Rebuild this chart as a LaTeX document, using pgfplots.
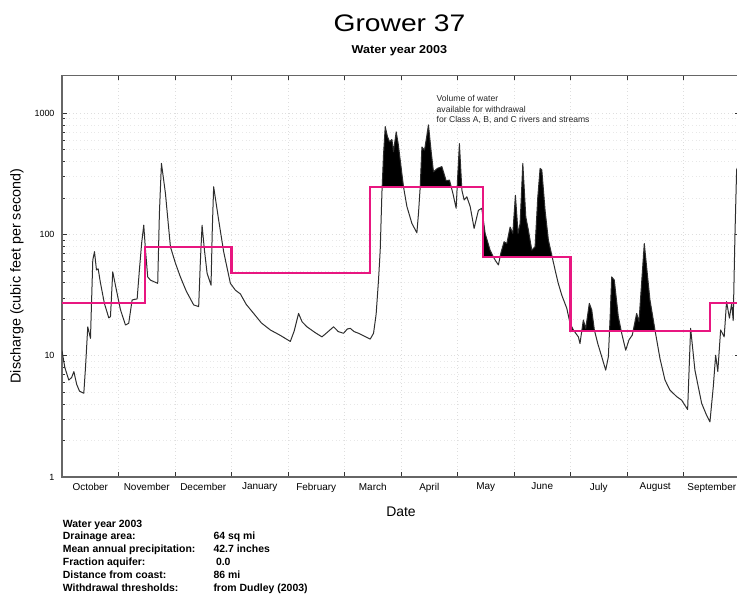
\documentclass[border=0pt]{standalone}
\usepackage{fontspec}
\setmainfont{Liberation Sans}
\usepackage{pgfplots}
\pgfplotsset{compat=1.18}
\usepgfplotslibrary{fillbetween}
\definecolor{thresh}{RGB}{232,22,128}

% daily discharge, x in months from 1 October (0) to 30 September (12)
\pgfplotstableread{
x y
0.00 11
0.05 8.0
0.12 6.3
0.17 6.6
0.21 7.4
0.26 5.8
0.31 5.1
0.386 4.9
0.416 8
0.456 17.3
0.504 13.9
0.545 61.5
0.575 72
0.610 51
0.640 52
0.68 40
0.75 27
0.828 20.5
0.858 21
0.898 49
0.946 38
1.034 24
1.123 17.9
1.181 18.5
1.241 28.8
1.330 29.4
1.370 51
1.41 85
1.447 119
1.477 75
1.517 44.6
1.565 42
1.623 40.8
1.694 39.5
1.724 150
1.760 385
1.830 219
1.919 79
2.007 58
2.095 44.6
2.20 34
2.331 26.2
2.419 25.4
2.449 60
2.479 119
2.52 75
2.568 47.8
2.638 38.1
2.66 110
2.684 247
2.773 131
2.861 72
2.980 39.5
3.068 34.7
3.157 32.3
3.26 26.5
3.392 22.3
3.53 18.6
3.687 16.3
3.864 14.7
4.041 13.1
4.11 16
4.187 22.3
4.25 19
4.336 17.3
4.48 15.5
4.601 14.3
4.69 15.5
4.806 17.3
4.89 15.8
4.983 15.3
5.05 16.6
5.102 16.8
5.17 15.8
5.248 15.3
5.35 14.5
5.455 13.7
5.514 15.3
5.56 22
5.602 42
5.632 74
5.662 219
5.69 450
5.721 772
5.76 640
5.797 580
5.839 605
5.867 480
5.915 700
5.95 560
5.986 410
6.044 247
6.104 170
6.193 123
6.281 103
6.31 150
6.340 247
6.370 525
6.416 495
6.455 640
6.486 800
6.534 480
6.575 328
6.645 350
6.723 362
6.799 277
6.858 280
6.918 218
6.976 164
7.00 280
7.034 560
7.077 232
7.118 192
7.165 204
7.224 170
7.294 112
7.370 158
7.430 164
7.489 102
7.577 74
7.636 65
7.68 60
7.724 56
7.767 70
7.825 87
7.873 84
7.931 115
7.979 102
8.025 210
8.072 102
8.108 123
8.156 385
8.209 139
8.255 108
8.315 74
8.373 79
8.42 200
8.462 350
8.492 340
8.550 158
8.608 90
8.686 62
8.727 51
8.78 40
8.845 31.6
8.934 24.6
8.992 18.5
9.050 16.3
9.139 14.3
9.168 12.6
9.227 19.7
9.270 16.8
9.333 27
9.376 23.8
9.422 16.3
9.482 12.6
9.553 9.8
9.623 7.6
9.670 9.8
9.70 20
9.729 44.6
9.775 42
9.846 21
9.906 15.3
9.977 11.1
10.035 13.5
10.094 14.8
10.171 22.3
10.212 19.1
10.306 84
10.406 28.8
10.495 16.3
10.583 9.5
10.672 6.3
10.760 5.2
10.879 4.6
10.967 4.3
11.01 4.0
11.073 3.6
11.126 16.8
11.202 7.6
11.321 4.05
11.40 3.3
11.468 2.85
11.527 5.55
11.569 10.1
11.607 7.4
11.657 16.3
11.720 14.3
11.762 27.9
11.813 20.4
11.852 27
11.88 19.5
11.910 96
11.940 340
11.98 380
}\flowtable

% withdrawal thresholds (Dudley, 2003)
\pgfplotstableread{
x y
0 27
1.467 27
1.467 79
3 79
3 48
5.45 48
5.45 245
7.45 245
7.45 65
9 65
9 16
11.467 16
11.467 27
12 27
}\threshtable

% shaded withdrawal volume: flow above the threshold, 15 March - 15 September
\tikzset{
  fill between/excess in/.style 2 args={soft clip={(axis cs:#1,1) rectangle (axis cs:#2,2040)}},
}
\pgfplotsset{excess/.style={black, draw=none}}

\begin{document}
\begin{tikzpicture}
\begin{axis}[
  set layers,
  at={(62bp,-477bp)}, anchor=south west,
  scale only axis, width=678bp, height=401.5bp,
  xmin=0, xmax=12,
  ymode=log, ymin=1, ymax=2040,
  xtick={0,1,...,12},
  xticklabels={October,November,December,January,February,March,April,May,June,July,August,September},
  x tick label as interval,
  ytick={1,10,100,1000},
  yticklabels={1,10,100,1000},
  /pgf/number format/assume math mode=true,
  tick align=inside,
  major tick length=5bp, minor tick length=3bp,
  tick style={black!80, line width=0.6bp},
  axis line style={black!60, line width=1.3bp},
  xmajorgrids, ymajorgrids, yminorgrids,
  major grid style={black!13, dash pattern=on 0.6bp off 3bp},
  minor grid style={black!9, dash pattern=on 0.6bp off 3bp},
  xticklabel style={font=\fontsize{10}{12}\selectfont, yshift=-2.5bp},
  yticklabel style={font=\fontsize{9}{11}\selectfont, xshift=-4bp},
  xlabel={Date},
  ylabel={Discharge (cubic feet per second)},
  every axis x label/.style={at={(axis description cs:0.5,-0.0864)}, anchor=center, font=\fontsize{14}{16}\selectfont},
  every axis y label/.style={at={(axis description cs:-0.0665,0.5)}, rotate=90, anchor=center, font=\fontsize{14.4}{16}\selectfont},
]
\addplot[black!82, line width=1bp, line join=round, name path=flow] table[x=x, y=y] {\flowtable};
\addplot[thresh, line width=2.2bp] table[x=x, y=y] {\threshtable};

% the three withdrawal-season threshold levels as separate paths
\addplot[draw=none, name path=t245] coordinates {(5.45,245) (7.45,245)};
\addplot[draw=none, name path=t65]  coordinates {(7.45,65) (9,65)};
\addplot[draw=none, name path=t16]  coordinates {(9,16) (11.467,16)};

\addplot[excess] fill between[of=flow and t245, excess in={5.666}{6.045}];
\addplot[excess] fill between[of=flow and t245, excess in={6.3395}{6.890}];
\addplot[excess] fill between[of=flow and t245, excess in={6.994}{7.074}];
\addplot[excess] fill between[of=flow and t65, excess in={7.451}{7.636}];
\addplot[excess] fill between[of=flow and t65, excess in={7.753}{8.676}];
\addplot[excess] fill between[of=flow and t16, excess in={9.001}{9.063}];
\addplot[excess] fill between[of=flow and t16, excess in={9.1995}{9.426}];
\addplot[excess] fill between[of=flow and t16, excess in={9.6906}{9.8975}];
\addplot[excess] fill between[of=flow and t16, excess in={10.1086}{10.498}];
\end{axis}

\node[anchor=base, xscale=1.18, font=\fontsize{24}{28}\selectfont] at (399.5bp,-31.7bp) {Grower 37};
\node[anchor=base, xscale=1.1, font=\fontsize{11.5}{13}\selectfont\bfseries] at (399.5bp,-53.3bp) {Water year 2003};

\node[anchor=north west, align=left, inner sep=0pt, font=\fontsize{8.6}{10.7}\selectfont, text=black!85]
  at (436.5bp,-95bp) {Volume of water\\available for withdrawal\\for Class A, B, and C rivers and streams};

\node[anchor=north west, align=left, inner sep=0pt, font=\fontsize{10.5}{12.9}\selectfont\bfseries]
  at (62.7bp,-519.5bp) {%
  \makebox[150.6bp][l]{Water year 2003}\\
  \makebox[150.6bp][l]{Drainage area:}64 sq mi\\
  \makebox[150.6bp][l]{Mean annual precipitation:}42.7 inches\\
  \makebox[150.6bp][l]{Fraction aquifer:}\hspace{2.5bp}0.0\\
  \makebox[150.6bp][l]{Distance from coast:}86 mi\\
  \makebox[150.6bp][l]{Withdrawal thresholds:}from Dudley (2003)};

\pgfresetboundingbox
\useasboundingbox (0bp,0bp) rectangle (737bp,-597bp);
\end{tikzpicture}
\end{document}
